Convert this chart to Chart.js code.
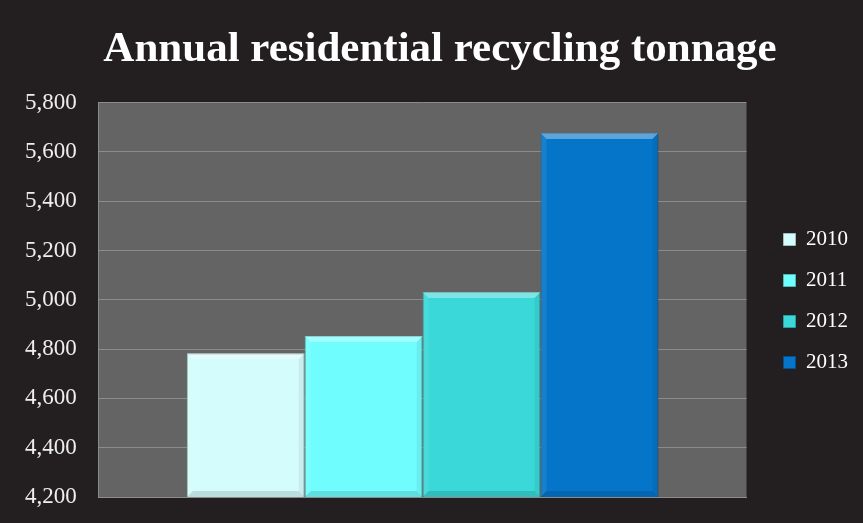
<!DOCTYPE html>
<html>
<head>
<meta charset="utf-8">
<script src="https://cdn.jsdelivr.net/npm/chart.js@4"></script>
<style>
  html, body { margin: 0; padding: 0; background: #231f20; }
  #wrap { width: 863px; height: 523px; }
</style>
</head>
<body>
<div id="wrap"><canvas id="myChart"></canvas></div>
<script>
// данные графика
const years = ['2010', '2011', '2012', '2013'];
const tonnage = [4783, 4853, 5032, 5677];
const colors = ['#d4fcfc', '#6ffdfd', '#3ad8d8', '#0575c9'];
const edges = ['#9fbcbc', '#4fb8b8', '#2a9c9c', '#04508a'];

// серый фон области построения
const plotBg = {
  id: 'plotBg',
  beforeDraw(chart) {
    const a = chart.chartArea;
    const ctx = chart.ctx;
    ctx.save();
    ctx.fillStyle = '#646464';
    ctx.fillRect(a.left, a.top, a.right - a.left, a.bottom - a.top);
    ctx.restore();
  }
};

// сдвиг заголовка и легенды как на картинке
const shiftBlocks = {
  id: 'shiftBlocks',
  afterLayout(chart) {
    chart.titleBlock.left += 18;
    chart.titleBlock.right += 18;
    chart.legend.left += 17;
    chart.legend.right += 17;
    chart.legend.top += 9;
    chart.legend.bottom += 9;
  }
};

// лёгкий "скос" по краям столбиков
const bevel = {
  id: 'bevel',
  afterDatasetsDraw(chart) {
    const ctx = chart.ctx;
    const b = 6;
    chart.data.datasets.forEach((ds, i) => {
      chart.getDatasetMeta(i).data.forEach(bar => {
        const l = bar.x - bar.width / 2, r = bar.x + bar.width / 2;
        const t = bar.y, btm = Math.min(bar.base, chart.chartArea.bottom);
        ctx.save();
        // верх — светлее
        ctx.fillStyle = 'rgba(255,255,255,0.35)';
        ctx.beginPath();
        ctx.moveTo(l, t); ctx.lineTo(r, t); ctx.lineTo(r - b, t + b); ctx.lineTo(l + b, t + b);
        ctx.fill();
        // низ — темнее
        ctx.fillStyle = 'rgba(0,0,0,0.12)';
        ctx.beginPath();
        ctx.moveTo(l, btm); ctx.lineTo(r, btm); ctx.lineTo(r - b, btm - b); ctx.lineTo(l + b, btm - b);
        ctx.fill();
        // бока
        ctx.fillStyle = 'rgba(0,0,0,0.06)';
        ctx.beginPath();
        ctx.moveTo(r, t); ctx.lineTo(r, btm); ctx.lineTo(r - b, btm - b); ctx.lineTo(r - b, t + b);
        ctx.fill();
        ctx.fillStyle = 'rgba(255,255,255,0.08)';
        ctx.beginPath();
        ctx.moveTo(l, t); ctx.lineTo(l, btm); ctx.lineTo(l + b, btm - b); ctx.lineTo(l + b, t + b);
        ctx.fill();
        ctx.restore();
      });
    });
  }
};

const datasets = years.map((y, i) => ({
  label: y,
  data: [tonnage[i]],
  backgroundColor: colors[i],
  borderColor: edges[i],
  borderWidth: 1
}));

const config = {
  type: 'bar',
  data: { labels: [''], datasets: datasets },
  options: {
    responsive: true,
    maintainAspectRatio: false,
    animation: false,
    layout: { padding: { left: 3, right: 22, bottom: 18 } },
    datasets: { bar: { barPercentage: 1, categoryPercentage: 0.728 } },
    scales: {
      x: {
        ticks: { display: false },
        grid: { display: false },
        border: { color: '#8c8c8c' }
      },
      y: {
        min: 4200,
        max: 5800,
        afterFit: s => { s.paddingBottom = 0; },
        ticks: {
          stepSize: 200,
          color: '#eeeeee',
          padding: 22,
          font: { family: 'Liberation Serif', size: 23 },
          callback: v => v.toLocaleString('en-US')
        },
        grid: { color: '#8c8c8c', drawTicks: false },
        border: { color: '#8c8c8c' }
      }
    },
    plugins: {
      title: {
        display: true,
        text: 'Annual residential recycling tonnage',
        color: '#ffffff',
        font: { family: 'Liberation Serif', size: 43, weight: 'bold' },
        padding: { top: 24, bottom: 27 }
      },
      legend: {
        position: 'right',
        title: { display: true, text: '', font: { size: 10 }, padding: { top: 0, bottom: 67 } },
        labels: {
          color: '#ffffff',
          boxWidth: 12,
          boxHeight: 12,
          padding: 20,
          font: { family: 'Liberation Serif', size: 21 }
        }
      },
      tooltip: { enabled: false }
    }
  },
  plugins: [plotBg, bevel, shiftBlocks]
};

const myChart = new Chart(document.getElementById('myChart'), config);
</script>
</body>
</html>
